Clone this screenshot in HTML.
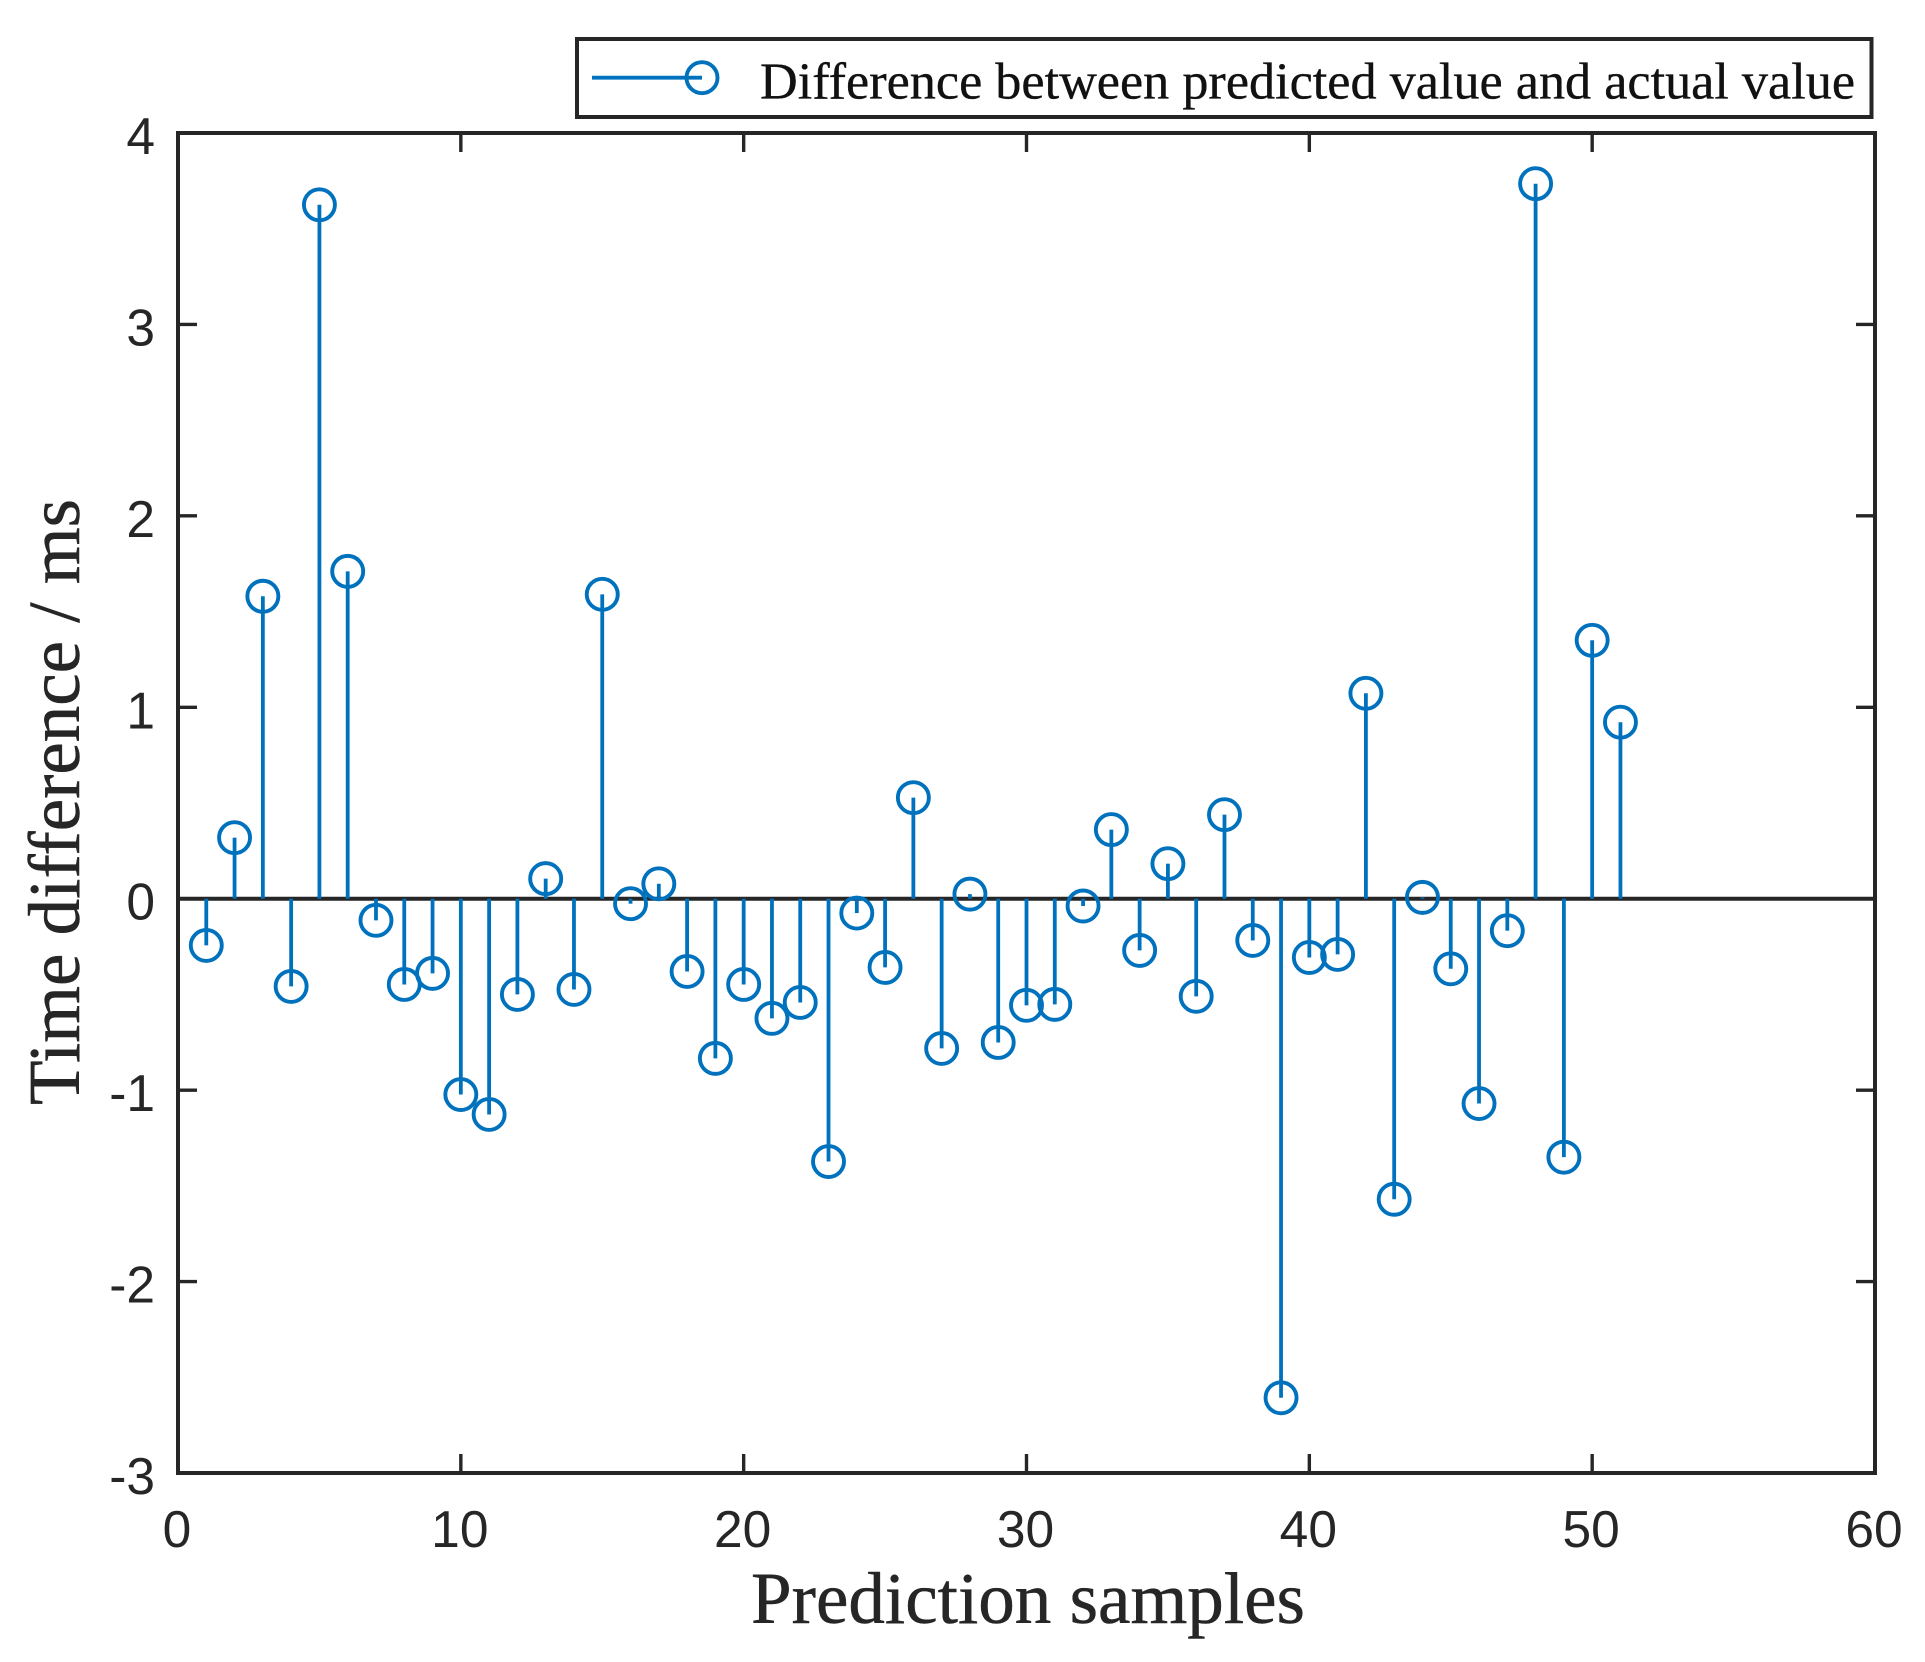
<!DOCTYPE html>
<html lang="en">
<head>
<meta charset="utf-8">
<title>Time difference between predicted and actual value</title>
<style>
html,body{margin:0;padding:0;background:#fff;}
svg{display:block;}
.tick-label{font-family:"Liberation Sans",Arial,sans-serif;font-size:51.5px;fill:#262626;}
.title{font-family:"Liberation Serif","Times New Roman",serif;font-size:73px;fill:#262626;stroke:#262626;stroke-width:0.5px;}
</style>
</head>
<body>
<svg id="chart" xmlns="http://www.w3.org/2000/svg" width="1925" height="1662" viewBox="0 0 1925 1662">
  <rect x="0" y="0" width="1925" height="1662" fill="#ffffff"/>
  <g id="baseline-layer"></g>
  <g id="stems-layer"></g>
  <g id="markers-layer"></g>
  <g id="ticks-layer"></g>
  <rect x="178" y="133" width="1697" height="1340" fill="none" stroke="#262626" stroke-width="4"/>
  <g id="xlabels-layer"></g>
  <g id="ylabels-layer"></g>
  <text class="title" x="751" y="1623" textLength="554" lengthAdjust="spacingAndGlyphs">Prediction samples</text>
  <text class="title" transform="translate(79 1105) rotate(-90)" x="0" y="0" textLength="606" lengthAdjust="spacingAndGlyphs">Time difference / ms</text>
  <g>
    <rect x="577" y="39" width="1294.5" height="78" fill="#ffffff" stroke="#262626" stroke-width="4"/>
    <line x1="592" y1="77.7" x2="702" y2="77.7" stroke="#0072BD" stroke-width="3.8"/>
    <circle cx="702" cy="77.7" r="15.5" fill="none" stroke="#0072BD" stroke-width="3.9"/>
    <text x="760" y="98.3" textLength="1095" lengthAdjust="spacingAndGlyphs" font-family="'Liberation Serif','Times New Roman',serif" font-size="52" fill="#111111" stroke="#111111" stroke-width="0.35">Difference between predicted value and actual value</text>
  </g>
</svg>
<script>
var sampleValues = [-0.244, 0.319, 1.58, -0.458, 3.625, 1.71, -0.113, -0.448, -0.39, -1.023,
  -1.127, -0.50, 0.105, -0.474, 1.59, -0.026, 0.078, -0.38, -0.834, -0.448,
  -0.625, -0.542, -1.373, -0.075, -0.359, 0.528, -0.782, 0.024, -0.751, -0.557,
  -0.552, -0.038, 0.361, -0.27, 0.183, -0.51, 0.439, -0.218, -2.607, -0.307,
  -0.291, 1.073, -1.57, 0.007, -0.366, -1.07, -0.167, 3.735, -1.35, 1.35, 0.922];
var xTickValues = [0, 10, 20, 30, 40, 50, 60];
var yTickValues = [-3, -2, -1, 0, 1, 2, 3, 4];

var SVG_NS = 'http://www.w3.org/2000/svg';
var plotLeft = 178, plotRight = 1875, plotTop = 133, plotBottom = 1473;
var xMin = 0, xMax = 60, yMin = -3, yMax = 4;
var tickLength = 19;
var axisColor = '#262626';
var seriesColor = '#0072BD';

function xScale(v) {
  return plotLeft + (v - xMin) / (xMax - xMin) * (plotRight - plotLeft);
}
function yScale(v) {
  return plotBottom - (v - yMin) / (yMax - yMin) * (plotBottom - plotTop);
}
function makeEl(tag, attrs) {
  var el = document.createElementNS(SVG_NS, tag);
  for (var k in attrs) {
    el.setAttribute(k, attrs[k]);
  }
  return el;
}

var baselineLayer = document.getElementById('baseline-layer');
var stemsLayer = document.getElementById('stems-layer');
var markersLayer = document.getElementById('markers-layer');
var ticksLayer = document.getElementById('ticks-layer');
var xLabelsLayer = document.getElementById('xlabels-layer');
var yLabelsLayer = document.getElementById('ylabels-layer');

var baseline = makeEl('line', {x1: plotLeft, x2: plotRight, y1: yScale(0), y2: yScale(0), stroke: axisColor, 'stroke-width': 4});


baselineLayer.appendChild(baseline);

sampleValues.forEach(function (value, i) {
  var sampleX = xScale(i + 1);
  var stem = makeEl('line', {x1: sampleX, x2: sampleX, y1: yScale(0), y2: yScale(value), stroke: seriesColor, 'stroke-width': 3.8});
  
  
  stemsLayer.appendChild(stem);

  var marker = makeEl('circle', {cx: sampleX, cy: yScale(value), r: 15.5, fill: 'none', stroke: seriesColor, 'stroke-width': 3.9});
  
  
  markersLayer.appendChild(marker);
});

xTickValues.forEach(function (value) {
  var tickX = xScale(value);
  if (value !== xMin && value !== xMax) {
    var bottomTick = makeEl('line', {x1: tickX, x2: tickX, y1: plotBottom, y2: plotBottom - tickLength, stroke: axisColor, 'stroke-width': 3.4});
    
    
    ticksLayer.appendChild(bottomTick);

    var topTick = makeEl('line', {x1: tickX, x2: tickX, y1: plotTop, y2: plotTop + tickLength, stroke: axisColor, 'stroke-width': 3.4});
    
    
    ticksLayer.appendChild(topTick);
  }
  var xLabel = makeEl('text', {x: tickX - 1, y: 1547, 'text-anchor': 'middle', 'class': 'tick-label'});
  xLabel.textContent = String(value);
  
  
  xLabelsLayer.appendChild(xLabel);
});

yTickValues.forEach(function (value) {
  var tickY = yScale(value);
  if (value !== yMin && value !== yMax) {
    var leftTick = makeEl('line', {x1: plotLeft, x2: plotLeft + tickLength, y1: tickY, y2: tickY, stroke: axisColor, 'stroke-width': 3.4});
    
    
    ticksLayer.appendChild(leftTick);

    var rightTick = makeEl('line', {x1: plotRight, x2: plotRight - tickLength, y1: tickY, y2: tickY, stroke: axisColor, 'stroke-width': 3.4});
    
    
    ticksLayer.appendChild(rightTick);
  }
  var yLabel = makeEl('text', {x: 155, y: tickY + 21, 'text-anchor': 'end', 'class': 'tick-label'});
  yLabel.textContent = String(value);
  
  
  yLabelsLayer.appendChild(yLabel);
});
</script>
</body>
</html>
